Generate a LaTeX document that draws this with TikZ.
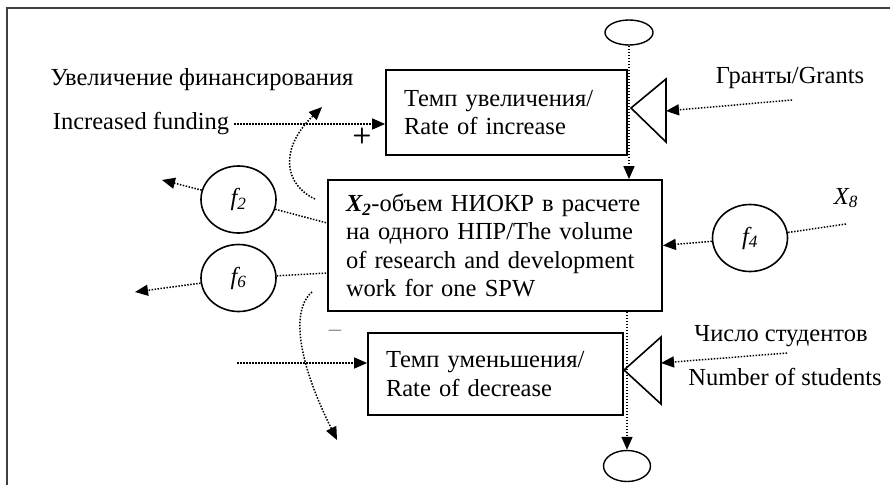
\documentclass[tikz,border=0pt]{standalone}
\usepackage{fontspec}
\setmainfont{Liberation Serif}
\usetikzlibrary{arrows.meta,shapes.geometric,calc}
\tikzset{
  every node/.style={font=\fontsize{24.5}{28.5}\selectfont},
  box/.style={draw,line width=1.8pt,align=left,inner xsep=18pt,inner ysep=0pt},
  fcirc/.style={draw,ellipse,line width=1.6pt,minimum width=75pt,minimum height=67pt,inner sep=0pt},
  oval/.style={draw,ellipse,line width=1.4pt,inner sep=0pt},
  dots/.style={line width=1.5pt,dash pattern=on 1.5pt off 1.5pt},
  arr/.style={dots,-{Triangle[length=13pt,width=11pt]}},
  lbl/.style={inner sep=0pt}
}
\begin{document}
\begin{tikzpicture}[x=1pt,y=-1pt]
\useasboundingbox (0,0) rectangle (890,485);
% frame
\draw[line width=2pt,black!75] (7,485) -- (7,8) -- (890,8);

% boxes
\node[box,minimum width=241pt,minimum height=85pt,text width=205pt] (up) at (506.5,112.5)
  {Темп увеличения/\\Rate of increase};
\node[box,minimum width=332pt,minimum height=131pt,text width=298pt] (mid) at (495,245.5)
  {\textbf{\textit{X\textsubscript{2}}}-объем НИОКР в расчете\\на одного НПР/The volume\\of research and development\\work for one SPW};
\node[box,minimum width=255pt,minimum height=82pt,text width=219pt] (dn) at (495.5,374)
  {Темп уменьшения/\\Rate of decrease};

% ovals
\node[oval,minimum width=48pt,minimum height=25pt] (top) at (629,32.5) {};
\node[oval,minimum width=47pt,minimum height=31pt] (bot) at (627,466) {};

% circles
\node[fcirc] (f2) at (238.5,199.5) {\itshape f\textsubscript{2}};
\node[fcirc] (f6) at (238.5,278) {\itshape f\textsubscript{6}};
\node[fcirc] (f4) at (750,238) {\itshape f\textsubscript{4}};

% triangles
\coordinate (t1apex) at (631,108);
\coordinate (t1top) at (666,79);
\coordinate (t1bot) at (666,142);
\coordinate (t1in) at (666,111);
\draw[line width=1.6pt] (t1top) -- (t1apex) -- (t1bot) -- cycle;
\coordinate (t2apex) at (624,370);
\coordinate (t2top) at (661,337);
\coordinate (t2bot) at (661,404);
\coordinate (t2in) at (661,363);
\draw[line width=1.6pt] (t2top) -- (t2apex) -- (t2bot) -- cycle;

% labels
\node[lbl] (uvel) at (202,80) {Увеличение финансирования};
\node[lbl] (inc) at (141,124) {Increased funding};
\node[lbl] (grants) at (790,78) {Гранты/Grants};
\node[lbl] (stud) at (781,336) {Число студентов};
\node[lbl] (nstud) at (785,377) {Number of students};
\node[lbl] (x8) at (846,198) {\itshape X\textsubscript{8}};
\node[lbl,font=\fontsize{22}{24}\selectfont\bfseries\sffamily] (plus) at (362,136) {+};
\node[lbl,text=black!45] (minus) at (335,333) {–};

% free ends
\coordinate (gs) at (792,100);
\coordinate (ss) at (787,353);
\coordinate (x8s) at (846,224);
\coordinate (a2) at (162,180);
\coordinate (a6) at (135,292);
\coordinate (ls) at (237,363);
\coordinate (c1s) at (315,199);
\coordinate (c1e) at (322,107);
\coordinate (c2s) at (312,292);
\coordinate (c2e) at (337,440);

% connectors
\draw[arr] ([xshift=5pt]inc.east) -- (inc.east -| up.west);
\draw[arr] (gs) -- (t1in);
\draw[arr] (ss) -- (t2in);
\draw[arr] (top.south) -- (top.south |- mid.north);
\draw[arr] (bot |- mid.south) -- (bot.north);
\draw[arr] (f2) -- (a2);
\draw[dots] (f2) -- ([yshift=22.5pt]mid.west);
\draw[arr] (f6) -- (a6);
\draw[dots] (f6) -- ([yshift=-27.5pt]mid.west);
\draw[arr] (f4) -- (mid.east);
\draw[dots] (x8s) -- (f4);
\draw[arr] (ls) -- (ls -| dn.west);
\draw[arr] (c1s) .. controls (285,185) and (278,150) .. (c1e);
\draw[arr] (c2s) .. controls (296,305) and (290,345) .. (c2e);
\end{tikzpicture}
\end{document}
